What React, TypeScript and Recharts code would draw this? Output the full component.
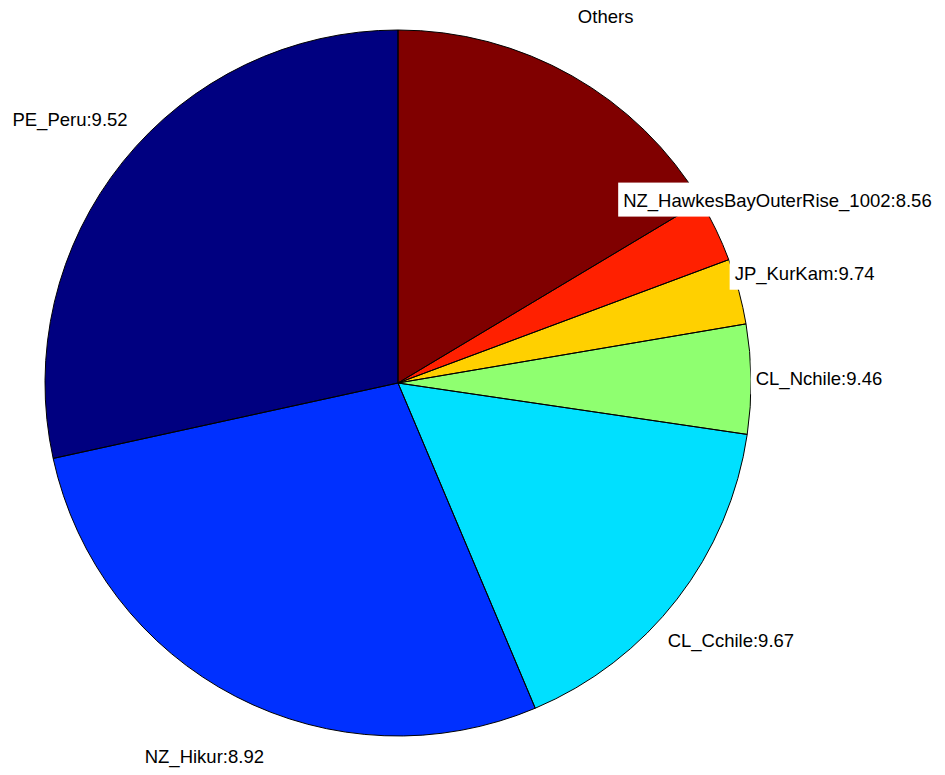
import React from 'react';
import { PieChart, Pie, Cell } from 'recharts';

// slice order: counter-clockwise from 12 o'clock
const names = [
  'PE_Peru:9.52',
  'NZ_Hikur:8.92',
  'CL_Cchile:9.67',
  'CL_Nchile:9.46',
  'JP_KurKam:9.74',
  'NZ_HawkesBayOuterRise_1002:8.56',
  'Others',
];
const shares = [28.4, 27.9, 16.3, 5.0, 3.0, 2.9, 16.4];
const COLORS = ['#000080', '#0030ff', '#00e0ff', '#8fff70', '#ffd000', '#ff2000', '#800000'];

const FONT = '18.5px "Liberation Sans", Arial, sans-serif';
const RADIAN = Math.PI / 180;

let ctx: CanvasRenderingContext2D | null = null;
const textWidth = (s: string) => {
  if (!ctx) ctx = document.createElement('canvas').getContext('2d');
  if (!ctx) return s.length * 10;
  ctx.font = FONT;
  return ctx.measureText(s).width;
};

const renderLabel = (props: any) => {
  const { cx, cy, midAngle, outerRadius, index } = props;
  const r = outerRadius + 68;
  const x = cx + r * Math.cos(-midAngle * RADIAN);
  const y = cy + r * Math.sin(-midAngle * RADIAN);
  const label = names[index];
  const w = textWidth(label);
  return (
    <g>
      <rect x={x - w / 2 - 5} y={y - 18} width={w + 10} height={34} fill="#ffffff" />
      <text
        x={x}
        y={y}
        textAnchor="middle"
        dominantBaseline="central"
        fill="#000000"
        style={{ font: FONT }}
      >
        {label}
      </text>
    </g>
  );
};

const App: React.FC = () => {
  const data = names.map((name, i) => ({ name, value: shares[i] }));

  return (
    <div style={{ position: 'absolute', left: 0, top: 0, width: 945, height: 775, background: '#fff' }}>
      <PieChart width={945} height={775} margin={{ top: 0, right: 0, bottom: 0, left: 0 }}>
        <Pie
          data={data}
          dataKey="value"
          cx={398}
          cy={383}
          outerRadius={353}
          startAngle={90}
          endAngle={450}
          stroke="none"
          label={renderLabel}
          labelLine={false}
          isAnimationActive={false}
        >
          {data.map((entry, index) => (
            <Cell key={`cell-${index}`} fill={COLORS[index]} />
          ))}
        </Pie>
        {/* outlines drawn over the label boxes, like the original */}
        <Pie
          data={data}
          dataKey="value"
          cx={398}
          cy={383}
          outerRadius={353}
          startAngle={90}
          endAngle={450}
          fill="none"
          stroke="#000000"
          strokeWidth={1}
          isAnimationActive={false}
        />
      </PieChart>
    </div>
  );
};

export default App;
